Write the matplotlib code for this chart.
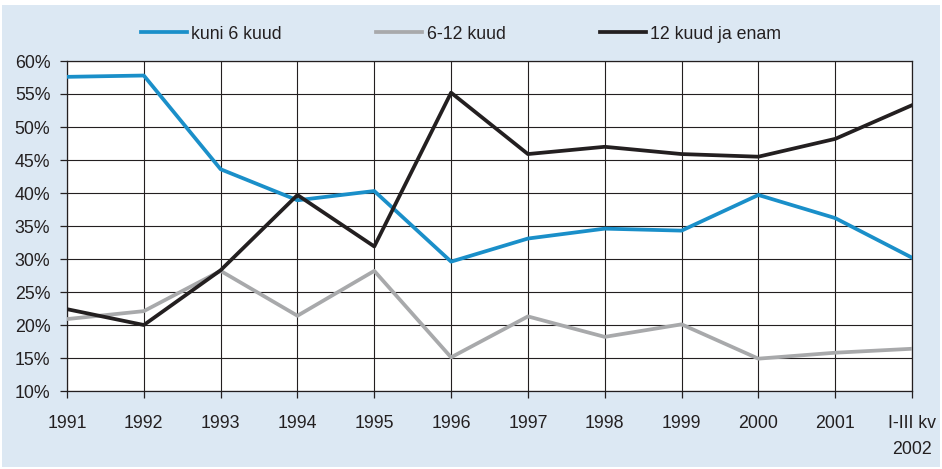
import matplotlib.pyplot as plt
from matplotlib.patches import Rectangle
from matplotlib.ticker import PercentFormatter

plt.rcParams['font.family'] = ['Liberation Sans', 'DejaVu Sans']

# andmed
years = ['1991', '1992', '1993', '1994', '1995', '1996', '1997', '1998',
         '1999', '2000', '2001', 'I-III kv\n2002']
kuni6 = [57.6, 57.8, 43.6, 38.9, 40.3, 29.6, 33.1, 34.6, 34.3, 39.7, 36.2, 30.2]
kuud6_12 = [20.9, 22.1, 28.2, 21.4, 28.2, 15.1, 21.3, 18.2, 20.1, 14.9, 15.8, 16.4]
kuud12 = [22.4, 20.0, 28.3, 39.7, 31.9, 55.2, 45.9, 47.0, 45.9, 45.5, 48.2, 53.3]

bg = '#dce8f3'
fig = plt.figure(figsize=(9.42, 4.69), dpi=100)
fig.patches.append(Rectangle((2 / 942, 2 / 469), 938 / 942, 462 / 469,
                             transform=fig.transFigure, facecolor=bg,
                             edgecolor='none', zorder=-1))

ax = fig.add_axes([67 / 942, 1 - 391 / 469, 845 / 942, 330 / 469])
x = range(len(years))
ax.plot(x, kuni6, color='#1a8fc9', lw=2.7, label='kuni 6 kuud', zorder=3)
ax.plot(x, kuud6_12, color='#a8a9ab', lw=2.7, label='6-12 kuud', zorder=3)
ax.plot(x, kuud12, color='#231f20', lw=2.7, label='12 kuud ja enam', zorder=4)

ax.set_xlim(0, len(years) - 1)
ax.set_ylim(10, 60)
ax.set_yticks(range(10, 61, 5))
ax.yaxis.set_major_formatter(PercentFormatter(decimals=0))
ax.set_xticks(list(x))
ax.set_xticklabels(years, linespacing=1.75)
ax.grid(True, color='#231f20', lw=0.8)
ax.set_axisbelow(True)
for s in ax.spines.values():
    s.set_color('#231f20')
    s.set_linewidth(0.9)
ax.tick_params(axis='both', length=5, width=0.9, color='#231f20',
               labelsize=12.8, labelcolor='#231f20')
ax.tick_params(axis='x', pad=12)
ax.tick_params(axis='y', pad=7)

fig.legend(loc='center', bbox_to_anchor=(461 / 942, 1 - 34 / 469), ncol=3,
           frameon=False, fontsize=12.8, handlelength=2.6, handletextpad=0.25,
           columnspacing=5.3, labelcolor='#231f20')

fig.savefig('out.png', dpi=100)
